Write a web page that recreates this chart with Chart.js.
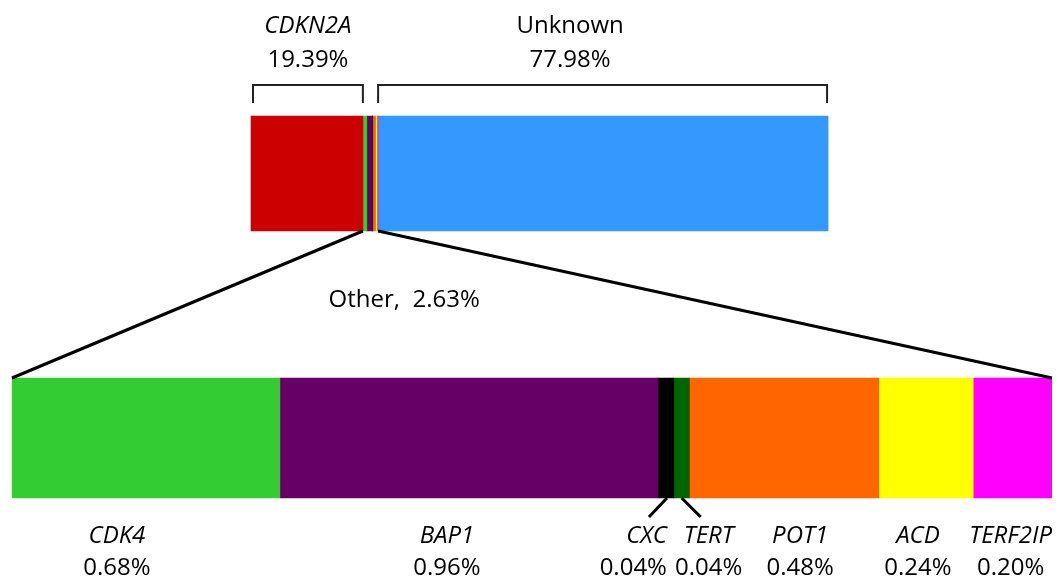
<!DOCTYPE html>
<html>
<head>
<meta charset="utf-8">
<script src="https://cdn.jsdelivr.net/npm/chart.js@4.4.1/dist/chart.umd.min.js"></script>
<style>
  body { margin: 0; background: #fff; }
  #wrap { width: 1057px; height: 577px; }
</style>
</head>
<body>
<div id="wrap"><canvas id="geneChart"></canvas></div>
<script>
// shares of families, in percent
const mainGroups = ['CDKN2A', 'Unknown'];
const mainValues = [19.39, 77.98];
const mainColors = ['#CC0000', '#3399FF'];

const otherGenes = ['CDK4', 'BAP1', 'CXC', 'TERT', 'POT1', 'ACD', 'TERF2IP'];
const otherValues = [0.68, 0.96, 0.04, 0.04, 0.48, 0.24, 0.20];
const otherColors = ['#33CC33', '#660066', '#000000', '#006600', '#FF6600', '#FFFF00', '#FF00FF'];
const otherLabel = 'Other,  2.63%';

const rows = ['all', 'other'];

// label placement tweaks (px from segment centre)
const mainShift = [1, -33];
const geneShift = [-29, -22, 1, 27, 16, -8, -2];
const geneAlign = ['center', 'center', 'right', 'center', 'center', 'center', 'center'];

const FONT = '"Open Sans", "Noto Sans", sans-serif';
const otherTotal = otherValues.reduce((a, b) => a + b, 0);

const datasets = [];
datasets.push({ label: mainGroups[0], data: [mainValues[0], null], backgroundColor: mainColors[0], xAxisID: 'xTop', barThickness: 115 });
otherGenes.forEach((g, i) => {
    datasets.push({ label: g, data: [otherValues[i], null], backgroundColor: otherColors[i], xAxisID: 'xTop', barThickness: 115 });
});
datasets.push({ label: mainGroups[1], data: [mainValues[1], null], backgroundColor: mainColors[1], xAxisID: 'xTop', barThickness: 115 });
otherGenes.forEach((g, i) => {
    datasets.push({ label: g, data: [null, otherValues[i]], backgroundColor: otherColors[i], xAxisID: 'xBottom', barThickness: 120 });
});

const nTop = otherGenes.length + 2;

function seg(chart, i) {
    const p = chart.getDatasetMeta(i).data[i < nTop ? 0 : 1].getProps(['x', 'base', 'y', 'height'], true);
    return { left: Math.min(p.x, p.base), right: Math.max(p.x, p.base), top: p.y - p.height / 2, bottom: p.y + p.height / 2 };
}

const annotate = {
    id: 'annotate',
    afterDatasetsDraw(chart) {
        const ctx = chart.ctx;
        const cdkn = seg(chart, 0);
        const unk = seg(chart, nTop - 1);
        const othL = seg(chart, 1);
        const othR = seg(chart, otherGenes.length);
        const botL = seg(chart, nTop);
        const botR = seg(chart, nTop + otherGenes.length - 1);

        ctx.save();
        ctx.strokeStyle = '#222';
        ctx.lineWidth = 2;
        // brackets
        [[cdkn.left + 2, cdkn.right], [unk.left, unk.right - 1]].forEach(([a, b]) => {
            ctx.beginPath();
            ctx.moveTo(a, cdkn.top - 13);
            ctx.lineTo(a, cdkn.top - 31);
            ctx.lineTo(b, cdkn.top - 31);
            ctx.lineTo(b, cdkn.top - 13);
            ctx.stroke();
        });

        // zoom lines
        ctx.strokeStyle = '#000';
        ctx.lineWidth = 3;
        ctx.beginPath();
        ctx.moveTo(othL.left, othL.bottom);
        ctx.lineTo(botL.left, botL.top);
        ctx.moveTo(othR.right, othR.bottom);
        ctx.lineTo(botR.right, botR.top);
        ctx.stroke();

        // leaders for the two thin segments
        const cxc = seg(chart, nTop + 2);
        const tert = seg(chart, nTop + 3);
        ctx.beginPath();
        ctx.moveTo((cxc.left + cxc.right) / 2 + 1, cxc.bottom);
        ctx.lineTo((cxc.left + cxc.right) / 2 - 17, cxc.bottom + 19);
        ctx.moveTo((tert.left + tert.right) / 2, tert.bottom);
        ctx.lineTo((tert.left + tert.right) / 2 + 19, tert.bottom + 19);
        ctx.stroke();

        // text
        ctx.fillStyle = '#000';
        ctx.textBaseline = 'alphabetic';
        [cdkn, unk].forEach((s, i) => {
            const cx = (s.left + s.right) / 2 + mainShift[i];
            ctx.textAlign = 'center';
            ctx.font = (i === 0 ? 'italic ' : '') + '24px ' + FONT;
            ctx.fillText(mainGroups[i], cx, s.top - 83);
            ctx.font = '24px ' + FONT;
            ctx.fillText(mainValues[i].toFixed(2) + '%', cx, s.top - 49);
        });

        ctx.textAlign = 'center';
        ctx.font = '24px ' + FONT;
        ctx.fillText(otherLabel, othR.right + 26, othR.bottom + 76);

        otherGenes.forEach((g, i) => {
            const s = seg(chart, nTop + i);
            let cx = (s.left + s.right) / 2 + geneShift[i];
            ctx.textAlign = geneAlign[i];
            ctx.font = 'italic 24px ' + FONT;
            ctx.fillText(g, cx, s.bottom + 45);
            ctx.font = '24px ' + FONT;
            ctx.fillText(otherValues[i].toFixed(2) + '%', cx, s.bottom + 77);
        });
        ctx.restore();
    }
};

// top bar: 0% at 251px, 100% at 828px inside a 12..1052 plot area
const pxPerPct = 577 / 100;
const topMin = -(251 - 12) / pxPerPct;
const topMax = topMin + 1040 / pxPerPct;

new Chart(document.getElementById('geneChart'), {
    type: 'bar',
    data: { labels: rows, datasets: datasets },
    options: {
        indexAxis: 'y',
        responsive: true,
        maintainAspectRatio: false,
        animation: false,
        layout: { padding: { left: 12, right: 5, top: 41.25, bottom: 6.75 } },
        plugins: { legend: { display: false }, tooltip: { enabled: false } },
        datasets: { bar: { borderWidth: 0 } },
        scales: {
            y: { stacked: true, display: false },
            xTop: { type: 'linear', position: 'top', stacked: true, display: false, min: topMin, max: topMax },
            xBottom: { type: 'linear', position: 'bottom', stacked: true, display: false, min: 0, max: otherTotal }
        }
    },
    plugins: [annotate]
});
</script>
</body>
</html>
